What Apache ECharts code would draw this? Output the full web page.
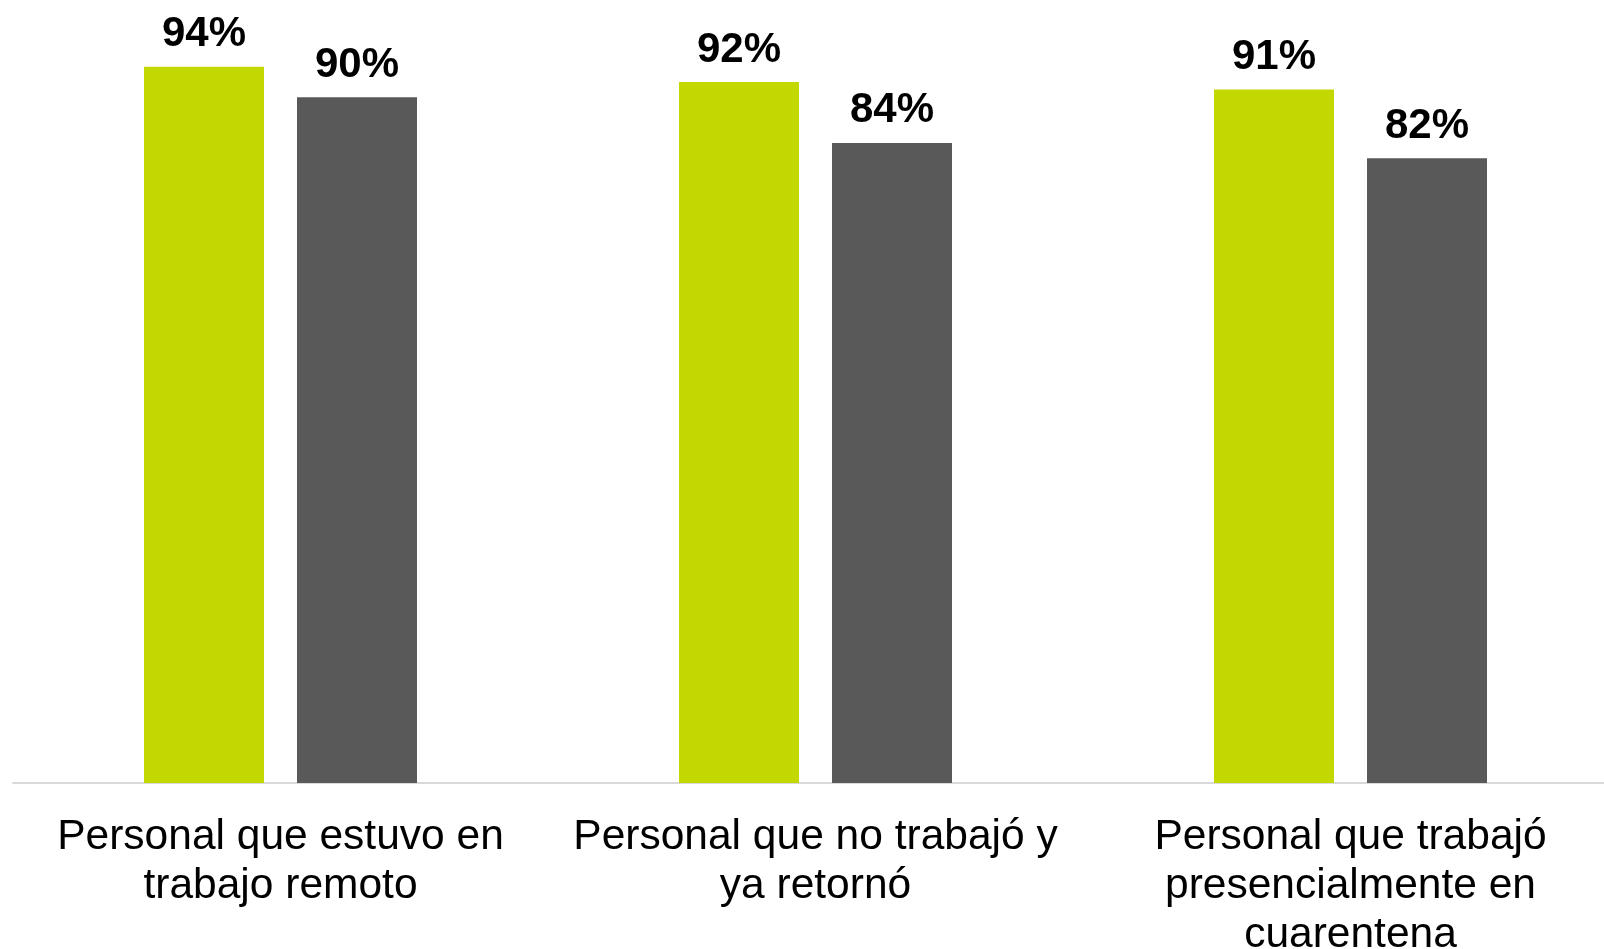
<!DOCTYPE html>
<html>
<head>
<meta charset="utf-8">
<script src="https://cdn.jsdelivr.net/npm/echarts@6/dist/echarts.min.js"></script>
<style>
  html, body { margin: 0; padding: 0; background: #fff; }
  #main { width: 1604px; height: 949px; }
</style>
</head>
<body>
<div id="main"></div>
<script>
// categorias (saltos de linea como en la imagen)
var categories = [
  'Personal que estuvo en\ntrabajo remoto',
  'Personal que no trabajó y\nya retornó',
  'Personal que trabajó\npresencialmente en\ncuarentena'
]
var serieVerde = [94, 92, 91]
var serieGris = [90, 84, 82]

var chart = echarts.init(document.getElementById('main'))

var labelStyle = {
  show: true,
  position: 'top',
  distance: 11,
  formatter: '{c}%',
  fontFamily: 'Liberation Sans',
  fontWeight: 'bold',
  fontSize: 42,
  color: '#000'
}

var option = {
  backgroundColor: '#fff',
  animation: false,
  grid: {
    left: 13,
    right: -14,
    top: 21,
    bottom: 166,
    outerBoundsMode: 'none',
    containLabel: false
  },
  xAxis: {
    type: 'category',
    data: categories,
    axisLine: { lineStyle: { color: '#d9d9d9', width: 2 } },
    axisTick: { show: false },
    axisLabel: {
      margin: 30,
      fontFamily: 'Liberation Sans',
      fontSize: 42.5,
      lineHeight: 49,
      color: '#000',
      interval: 0
    }
  },
  yAxis: {
    type: 'value',
    min: 0,
    max: 100,
    show: false,
    splitLine: { show: false }
  },
  series: [
    {
      type: 'bar',
      data: serieVerde,
      barWidth: 120,
      barGap: '27.5%',
      itemStyle: { color: '#c3d800' },
      label: labelStyle
    },
    {
      type: 'bar',
      data: serieGris,
      barWidth: 120,
      itemStyle: { color: '#595959' },
      label: labelStyle
    }
  ]
}

chart.setOption(option)
</script>
</body>
</html>
